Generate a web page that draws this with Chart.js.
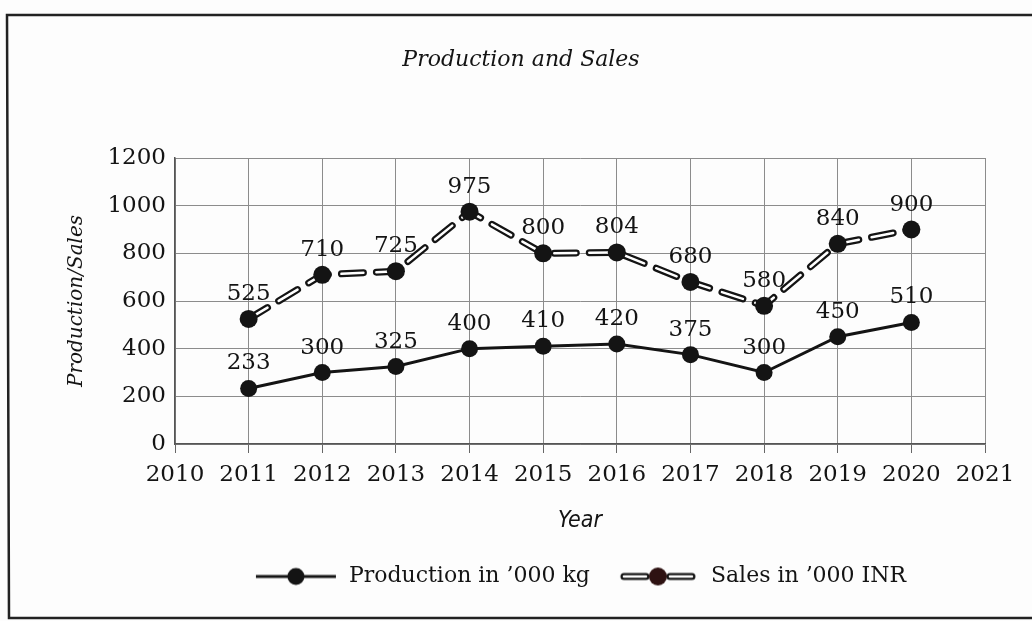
<!DOCTYPE html>
<html>
<head>
<meta charset="utf-8">
<script src="https://cdn.jsdelivr.net/npm/chart.js@4.4.1/dist/chart.umd.min.js"></script>
<style>
  html, body { margin: 0; padding: 0; background: #fdfdfd; }
  #wrap { width: 1032px; height: 621px; position: relative; }
</style>
</head>
<body>
<div id="wrap"><canvas id="c" width="1032" height="621"></canvas></div>
<script>
// ---- data ----
const years = ['2010', '2011', '2012', '2013', '2014', '2015', '2016', '2017', '2018', '2019', '2020', '2021'];
const production = [null, 233, 300, 325, 400, 410, 420, 375, 300, 450, 510, null];
const sales = [null, 525, 710, 725, 975, 800, 804, 680, 580, 840, 900, null];
const yTicks = [0, 200, 400, 600, 800, 1000, 1200];
const seriesNames = ['Production in \u2019000 kg', 'Sales in \u2019000 INR'];
const chartTitle = 'Production and Sales';
const xTitle = 'Year';
const yTitle = 'Production/Sales';

const INK = '#141414';
const SERIF = '"DejaVu Serif", "Liberation Serif", serif';
const DASH = [22, 13];

// legend symbols
function makeSymbol(kind) {
  const c = document.createElement('canvas');
  c.width = 84; c.height = 22;
  const g = c.getContext('2d');
  const cy = 11;
  if (kind === 'prod') {
    g.strokeStyle = INK; g.lineWidth = 3;
    g.beginPath(); g.moveTo(2, cy); g.lineTo(82, cy); g.stroke();
    g.fillStyle = INK; g.beginPath(); g.arc(42, cy, 8.5, 0, Math.PI * 2); g.fill();
  } else {
    g.lineCap = 'round';
    [[8, 30], [54, 76]].forEach(([a, b]) => {
      g.strokeStyle = INK; g.lineWidth = 7;
      g.beginPath(); g.moveTo(a, cy); g.lineTo(b, cy); g.stroke();
      g.strokeStyle = '#ffffff'; g.lineWidth = 2.5;
      g.beginPath(); g.moveTo(a, cy); g.lineTo(b, cy); g.stroke();
    });
    g.fillStyle = '#2e1212'; g.beginPath(); g.arc(42, cy, 9, 0, Math.PI * 2); g.fill();
  }
  return c;
}
const symProd = makeSymbol('prod');
const symSales = makeSymbol('sales');

const bgFrame = {
  id: 'bgFrame',
  beforeDraw(chart) {
    const ctx = chart.ctx;
    ctx.save();
    ctx.fillStyle = '#fdfdfd';
    ctx.fillRect(0, 0, chart.width, chart.height);
    ctx.strokeStyle = '#222';
    ctx.lineWidth = 2.5;
    ctx.beginPath();
    ctx.moveTo(chart.width + 2, 15);
    ctx.lineTo(7, 15);
    ctx.lineTo(9, 618);
    ctx.lineTo(chart.width + 2, 618);
    ctx.stroke();
    ctx.restore();
  }
};

const valueLabels = {
  id: 'valueLabels',
  afterDatasetsDraw(chart) {
    const ctx = chart.ctx;
    ctx.save();
    ctx.font = '23px ' + SERIF;
    ctx.fillStyle = INK;
    ctx.textAlign = 'center';
    ctx.textBaseline = 'alphabetic';
    [0, 3].forEach(di => {
      const meta = chart.getDatasetMeta(di);
      const data = chart.data.datasets[di].data;
      meta.data.forEach((pt, i) => {
        if (data[i] === null || data[i] === undefined) return;
        ctx.fillText(String(data[i]), pt.x, pt.y - 19);
      });
    });
    ctx.restore();
  }
};

new Chart(document.getElementById('c'), {
  type: 'line',
  data: {
    labels: years,
    datasets: [
      {
        label: seriesNames[0], data: production, order: 0,
        borderColor: INK, borderWidth: 3, tension: 0,
        pointRadius: 8.5, pointBackgroundColor: INK, pointBorderColor: INK, pointBorderWidth: 0,
        spanGaps: false
      },
      {
        label: '_salesOutline', data: sales, order: 3,
        borderColor: INK, borderWidth: 7, borderDash: DASH, borderCapStyle: 'round',
        pointRadius: 0, tension: 0
      },
      {
        label: '_salesInner', data: sales, order: 2,
        borderColor: '#ffffff', borderWidth: 2.5, borderDash: DASH, borderCapStyle: 'round',
        pointRadius: 0, tension: 0
      },
      {
        label: seriesNames[1], data: sales, order: 1, showLine: false,
        pointRadius: 9, pointBackgroundColor: INK, pointBorderColor: INK, pointBorderWidth: 0
      }
    ]
  },
  options: {
    responsive: false,
    animation: false,
    layout: { padding: { left: 57, right: 47, top: 0, bottom: 23.5 } },
    plugins: {
      title: {
        display: true, text: chartTitle, color: INK,
        font: { family: SERIF, size: 22, style: 'italic', weight: 'normal' },
        padding: { top: 46.8, bottom: 84.8 }
      },
      legend: {
        display: true, position: 'bottom', fullSize: false,
        labels: {
          usePointStyle: true, pointStyleWidth: 84, padding: 26, color: INK,
          font: { family: SERIF, size: 22 },
          filter: (item) => item.datasetIndex === 0 || item.datasetIndex === 3,
          generateLabels: (chart) => {
            const items = Chart.defaults.plugins.legend.labels.generateLabels(chart);
            items.forEach(it => {
              if (it.datasetIndex === 0) { it.pointStyle = symProd; it.text = seriesNames[0]; }
              if (it.datasetIndex === 3) { it.pointStyle = symSales; it.text = seriesNames[1]; }
              it.lineWidth = 0;
            });
            return items;
          }
        }
      },
      tooltip: { enabled: false }
    },
    scales: {
      x: {
        type: 'category', offset: false,
        grid: { color: '#8c8c8c', lineWidth: 1, drawTicks: true, tickLength: 9, tickColor: '#666' },
        border: { color: '#555', width: 1.5 },
        ticks: { color: INK, font: { family: SERIF, size: 23 }, padding: 8, maxRotation: 0, autoSkip: false },
        title: {
          display: true, text: xTitle, color: INK,
          font: { family: '"Liberation Sans Narrow", "DejaVu Sans Condensed", sans-serif', size: 23, style: 'italic' },
          padding: { top: 0, bottom: 5 }
        },
        afterFit: (s) => { s.height = 95.5; }
      },
      y: {
        min: 0, max: 1200,
        afterBuildTicks: (s) => { s.ticks = yTicks.map(v => ({ value: v })); },
        grid: { color: '#8c8c8c', lineWidth: 1, drawTicks: false },
        border: { color: '#555', width: 1.5 },
        ticks: { color: INK, font: { family: SERIF, size: 23 }, padding: 9, callback: (v) => String(v) },
        title: {
          display: true, text: yTitle, color: INK,
          font: { family: SERIF, size: 20, style: 'italic' },
          padding: { top: 8, bottom: 0 }
        },
        afterFit: (s) => { s.width = 118; }
      }
    }
  },
  plugins: [bgFrame, valueLabels]
});
</script>
</body>
</html>
